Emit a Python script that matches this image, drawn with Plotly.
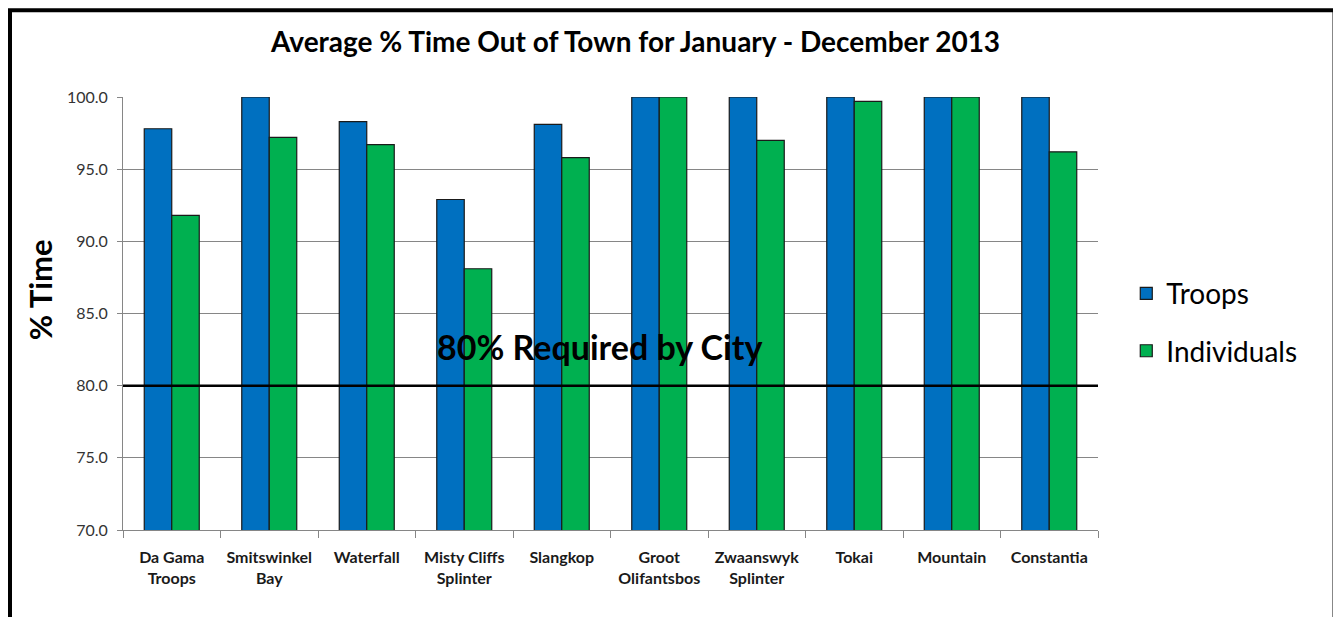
import plotly.graph_objects as go

categories = ["Da Gama<br>Troops", "Smitswinkel<br>Bay", "Waterfall", "Misty Cliffs<br>Splinter",
              "Slangkop", "Groot<br>Olifantsbos", "Zwaanswyk<br>Splinter", "Tokai",
              "Mountain", "Constantia"]
troops = [97.8, 100.0, 98.3, 92.9, 98.1, 100.0, 100.0, 100.0, 100.0, 100.0]
individuals = [91.8, 97.2, 96.7, 88.1, 95.8, 100.0, 97.0, 99.7, 100.0, 96.2]
required = 80
y_ticks = [70, 75, 80, 85, 90, 95, 100]

FONT = "Lato, 'Open Sans', sans-serif"

fig = go.Figure()
fig.add_trace(go.Bar(x=categories, y=troops, name="Troops", legendgroup="a",
                     marker=dict(color="#0070C0", line=dict(color="#1a1a1a", width=1.2))))
fig.add_trace(go.Bar(x=categories, y=individuals, name="Individuals", legendgroup="b",
                     marker=dict(color="#00B050", line=dict(color="#1a1a1a", width=1.2))))

fig.add_shape(type="line", xref="paper", yref="y", x0=0, x1=1, y0=required, y1=required,
              line=dict(color="black", width=2.5))
fig.add_annotation(xref="paper", yref="y", x=0.489, y=82.7, text="<b>80% Required by City</b>",
                   showarrow=False, font=dict(family=FONT, size=34, color="black"))
fig.add_annotation(xref="paper", yref="paper", x=-0.085, y=0.554, text="<b>% Time</b>",
                   textangle=-90, showarrow=False, xanchor="center", yanchor="middle",
                   font=dict(family=FONT, size=31, color="black"))
# outer frame
fig.add_shape(type="rect", xref="paper", yref="paper", x0=-0.1159, x1=1.2426, y0=-0.3, y1=1.2005,
              line=dict(color="black", width=4), layer="above")

fig.update_layout(
    width=1341, height=617,
    margin=dict(l=115, r=251, t=89, b=95),
    paper_bgcolor="white", plot_bgcolor="white",
    barmode="group", bargap=0.436, bargroupgap=0,
    title=dict(text="<b>Average % Time Out of Town for January - December 2013</b>",
               x=0.468, xanchor="center", y=0.945, yanchor="middle",
               font=dict(family=FONT, size=28, color="black")),
    legend=dict(x=1.029, y=0.48, xanchor="left", yanchor="middle",
                font=dict(family=FONT, size=28, color="black"),
                traceorder="grouped", tracegroupgap=18, itemwidth=30),
    xaxis=dict(showline=True, linecolor="#868686", linewidth=1,
               ticks="outside", tickson="boundaries", ticklen=7, tickcolor="#868686",
               tickfont=dict(family=FONT, size=16, color="#1a1a1a"),
               tickprefix="<b>", ticksuffix="</b>", ticklabelstandoff=13),
    yaxis=dict(range=[70, 100], tickvals=y_ticks, tickformat=".1f",
               showgrid=True, gridcolor="#868686", gridwidth=1,
               showline=True, linecolor="#868686", linewidth=1,
               ticks="outside", ticklen=5, tickcolor="#868686",
               tickfont=dict(family=FONT, size=16, color="#333333"),
               ticklabelstandoff=6, zeroline=False),
    showlegend=True,
)

fig.write_html("out.html")
